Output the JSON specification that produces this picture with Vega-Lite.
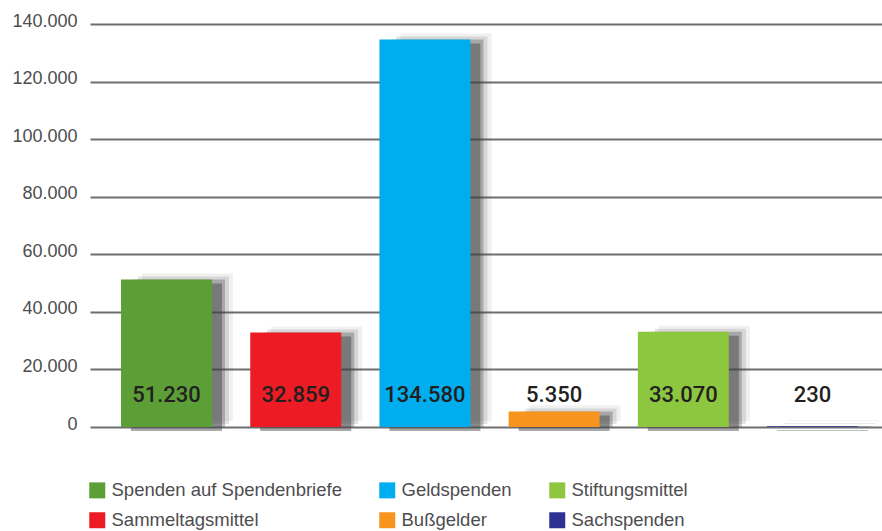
{
  "$schema": "https://vega.github.io/schema/vega-lite/v6.json",
  "autosize": {"type": "none"},
  "padding": {"left": 90, "top": 24, "right": 0, "bottom": 104},
  "width": 792,
  "height": 403,
  "background": "white",
  "data": {
    "values": [
      {"cat": "Spenden auf Spendenbriefe", "value": 51230},
      {"cat": "Sammeltagsmittel", "value": 32859},
      {"cat": "Geldspenden", "value": 134580},
      {"cat": "Bußgelder", "value": 5350},
      {"cat": "Stiftungsmittel", "value": 33070},
      {"cat": "Sachspenden", "value": 230}
    ]
  },
  "encoding": {
    "x": {
      "field": "cat", "type": "nominal", "sort": null, "axis": null,
      "scale": {"paddingInner": 0.296, "paddingOuter": 0.213, "align": 0.564}
    },
    "y": {
      "field": "value", "type": "quantitative",
      "scale": {"domain": [0, 140000], "nice": false},
      "axis": {
        "title": null, "domain": false, "ticks": false, "grid": true,
        "gridColor": "#6d6e71", "gridWidth": 2,
        "values": [0, 20000, 40000, 60000, 80000, 100000, 120000, 140000],
        "format": ",d",
        "labelFont": "Liberation Sans", "labelFontSize": 18, "labelColor": "#4d4d4f",
        "labelPadding": 13, "labelBaseline": "alphabetic", "labelOffset": 2
      }
    }
  },
  "layer": [
    {"mark": {"type": "bar", "color": "#404041", "opacity": 0.08, "xOffset": 21, "yOffset": -6, "y2Offset": 6}},
    {"mark": {"type": "bar", "color": "#404041", "opacity": 0.15, "xOffset": 17, "yOffset": -3, "y2Offset": 4}},
    {"mark": {"type": "bar", "color": "#404041", "opacity": 0.3, "xOffset": 13, "yOffset": 0, "y2Offset": 2}},
    {"mark": {"type": "bar", "color": "#404041", "opacity": 0.45, "xOffset": 10, "yOffset": 4}},
    {
      "mark": {"type": "bar", "opacity": 1},
      "encoding": {
        "color": {
          "field": "cat", "type": "nominal",
          "scale": {
            "domain": ["Spenden auf Spendenbriefe", "Sammeltagsmittel", "Geldspenden", "Bußgelder", "Stiftungsmittel", "Sachspenden"],
            "range": ["#5b9f36", "#ed1c24", "#00aeef", "#f7941d", "#8dc63f", "#2e3192"]
          },
          "legend": {
            "title": null, "orient": "none", "legendX": -2, "legendY": 457,
            "columns": 3, "columnPadding": 36, "rowPadding": 11,
            "symbolType": "square", "symbolSize": 256, "symbolStrokeWidth": 0, "symbolOpacity": 1,
            "labelFont": "Liberation Sans", "labelFontSize": 18.5, "labelColor": "#4d4d4f",
            "labelOffset": 5, "labelLimit": 400
          }
        }
      }
    },
    {
      "mark": {"type": "text", "font": "Roboto", "fontWeight": 500, "fontSize": 22, "color": "#231f20", "baseline": "alphabetic", "align": "center", "dy": -25},
      "encoding": {
        "y": {"datum": 0, "type": "quantitative"},
        "text": {"field": "value", "type": "quantitative", "format": ",d"}
      }
    }
  ],
  "config": {
    "view": {"stroke": null},
    "locale": {"number": {"decimal": ",", "thousands": ".", "grouping": [3], "currency": ["", " €"]}}
  }
}
